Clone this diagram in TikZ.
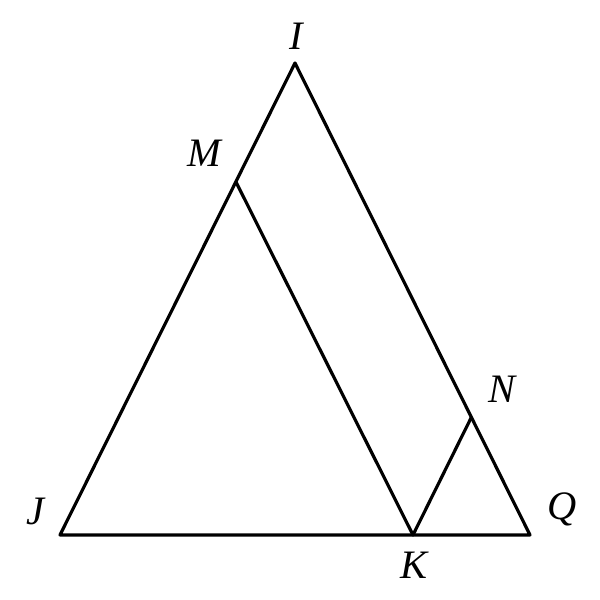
\documentclass[tikz,border=0pt]{standalone}
\usepackage{fontspec}
\setmainfont{Liberation Serif}
\begin{document}
\begin{tikzpicture}[x=0.02cm,y=-0.02cm,
  seg/.style={line width=1.8pt,line join=round,line cap=round},
  lbl/.style={font=\fontsize{23}{23}\selectfont\itshape,inner sep=0pt}]
\useasboundingbox (0,0) rectangle (600,600);
\coordinate (I) at (295,63);
\coordinate (J) at (60,535);
\coordinate (Q) at (530,535);
\coordinate (M) at (236,182);
\coordinate (K) at (413,535);
\coordinate (N) at (471,418);
\draw[seg] (I) -- (J) -- (Q) -- cycle;
\draw[seg] (M) -- (K) -- (N);
\node[lbl] (lI) at (296,36) {I};
\node[lbl] (lM) at (204,153) {M};
\node[lbl] (lN) at (502,389) {N};
\node[lbl] (lJ) at (35,511) {J};
\node[lbl] (lQ) at (562,509) {Q};
\node[lbl] (lK) at (414,565) {K};
\end{tikzpicture}
\end{document}
